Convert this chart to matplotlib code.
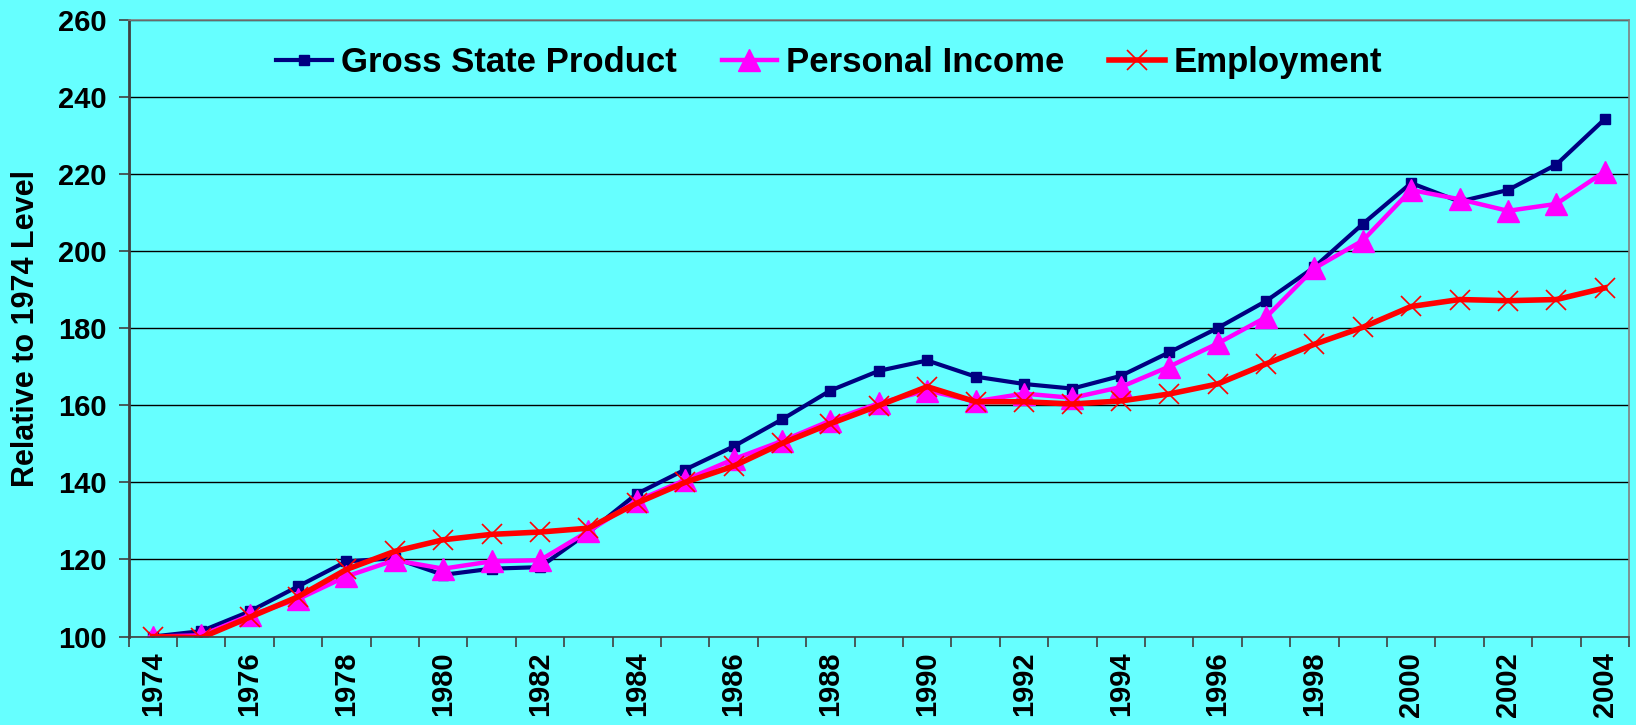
import numpy as np
import matplotlib
matplotlib.use("Agg")
import matplotlib.pyplot as plt
from matplotlib.ticker import FixedLocator

# data (index, 1974 = 100)
years = list(range(1974, 2005))
gsp = [100, 101.4, 106.5, 113, 119.5, 120.3, 116, 117.6, 118, 127, 137, 143.3,
       149.3, 156.3, 163.8, 168.9, 171.6, 167.4, 165.5, 164.3, 167.6, 173.7,
       180, 187, 195.8, 207, 217.6, 212.8, 215.8, 222.4, 234.2]
income = [100, 100.3, 105.5, 109.7, 115.6, 119.8, 117.6, 119.5, 119.8, 127.3,
          135.2, 140.6, 146, 150.7, 156, 160.5, 163.8, 161, 163, 161.9, 164.7,
          170, 176, 182.8, 195.5, 202.7, 215.8, 213.4, 210.4, 212.2, 220.6]
employment = [100, 99.7, 105, 110.3, 117.4, 122.1, 125.1, 126.5, 127.1, 128.1,
              134.6, 140, 144.2, 150.1, 155.2, 159.9, 164.8, 160.9, 160.9,
              160.3, 161.1, 162.9, 165.5, 170.7, 175.8, 180.2, 185.6, 187.4,
              187.1, 187.4, 190.4]
labels = ["Gross State Product", "Personal Income", "Employment"]

bg = "#66FFFF"
plt.rcParams['font.family'] = ['Liberation Sans', 'DejaVu Sans']
plt.rcParams['font.weight'] = 'bold'

fig = plt.figure(figsize=(16.36, 7.25), dpi=100, facecolor=bg)
ax = fig.add_axes([0.0786, 0.122, 0.9171, 0.851])
ax.set_facecolor(bg)

x = np.arange(len(years))
ax.plot(x, gsp, color="#000080", lw=3, marker="s", ms=6.5, label=labels[0],
        solid_joinstyle="round")
ax.plot(x, income, color="#FF00FF", lw=3.2, marker="^", ms=16, label=labels[1],
        solid_joinstyle="round")
ax.plot(x, employment, color="#FF0000", lw=4, marker="x", ms=15, mew=1.2,
        label=labels[2], solid_joinstyle="round")

ax.set_xlim(-0.5, len(years) - 0.5)
ax.set_ylim(100, 260)
ax.set_yticks(range(100, 261, 20))
ax.yaxis.grid(True, color="black", lw=1)
ax.set_axisbelow(True)

ax.set_xticks(x[::2])
ax.set_xticklabels([str(y) for y in years[::2]], rotation=90)
ax.xaxis.set_minor_locator(FixedLocator(np.arange(-0.5, len(years), 1)))
ax.tick_params(axis="x", which="major", length=0, pad=11, labelsize=21)
ax.tick_params(axis="x", which="minor", length=7, width=1.2, color="#404040")
ax.tick_params(axis="y", length=7, width=1.2, color="#404040", pad=9,
               labelsize=21)

for s in ["top", "right"]:
    ax.spines[s].set_color("#808080")
    ax.spines[s].set_linewidth(1.2)
ax.spines["left"].set_color("#404040")
ax.spines["left"].set_linewidth(2)
ax.spines["bottom"].set_color("#404040")
ax.spines["bottom"].set_linewidth(1.2)

ax.set_ylabel("Relative to 1974 Level", fontsize=22, fontweight="bold", labelpad=12)

ax.legend(loc="center", bbox_to_anchor=(0.467, 0.93), ncol=3, frameon=False,
          fontsize=25, handlelength=1.6, handletextpad=0.25, columnspacing=1.3,
          markerscale=1.0)

fig.savefig("out.png", dpi=100, facecolor=bg)
